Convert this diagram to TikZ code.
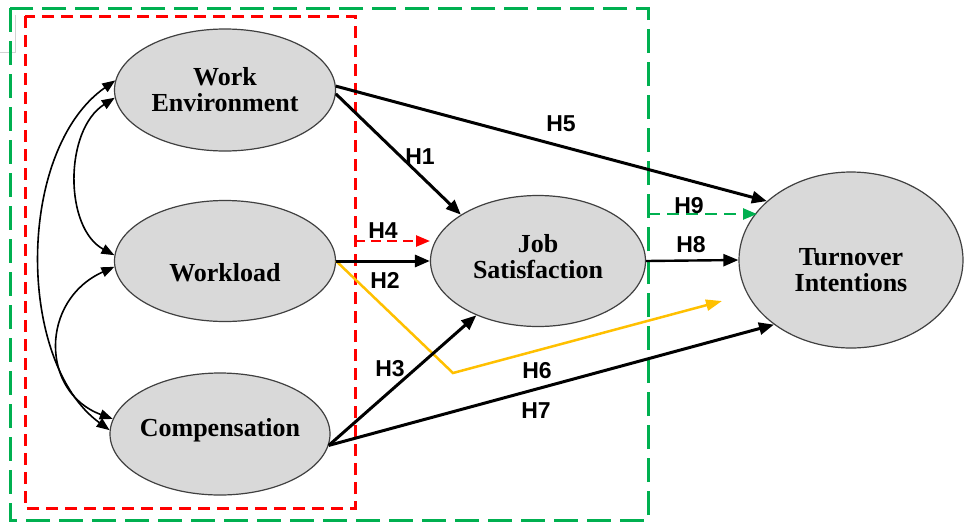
\documentclass[tikz,border=0pt]{standalone}
\usepackage{fontspec}
\setmainfont{Liberation Serif}
\newfontfamily\labfont{Liberation Sans}
\usetikzlibrary{arrows.meta,shapes.geometric}
\definecolor{boxgreen}{HTML}{00B050}
\definecolor{boxred}{HTML}{FF0000}
\definecolor{arryellow}{HTML}{FFC000}
\definecolor{ellfill}{HTML}{D9D9D9}
\definecolor{ellline}{HTML}{404040}
\begin{document}
\begin{tikzpicture}[x=1pt,y=-1pt,
  var/.style={ellipse, draw=ellline, line width=1.2pt, fill=ellfill, inner sep=0pt},
  vtext/.style={font=\fontsize{26}{26}\selectfont\bfseries, align=center, text=black},
  hlab/.style={font=\labfont\fontsize{23}{23}\selectfont\bfseries, inner sep=0pt},
  mainarrow/.style={line width=3pt, -{Triangle[length=15pt,width=12pt]}},
  thinarrow/.style={line width=2.4pt, -{Triangle[length=15pt,width=12pt]}},
  bidir/.style={line width=1.6pt, {Triangle[length=13pt,width=10pt]}-{Triangle[length=13pt,width=10pt]}},
  yelarrow/.style={draw=arryellow, line width=2.5pt, -{Triangle[length=16pt,width=11pt]}},
  reddash/.style={draw=boxred, line width=2.5pt, dash pattern=on 10pt off 6pt, -{Triangle[length=14pt,width=11pt]}},
  greendash/.style={draw=boxgreen, line width=2.5pt, dash pattern=on 12pt off 7pt, -{Triangle[length=14pt,width=11pt]}},
  greenbox/.style={draw=boxgreen, line width=3pt, dash pattern=on 24pt off 9pt},
  redbox/.style={draw=boxred, line width=3pt, dash pattern=on 12pt off 7pt}
]
\useasboundingbox (0,0) rectangle (964,523);
\fill[white] (0,0) rectangle (964,523);
% faint corner mark
\draw[gray!35, line width=0.8pt] (0,52) -- (15,52) -- (15,15);
% boxes
\draw[greenbox] (10,8) rectangle (648,520);
\draw[redbox] (25,16) rectangle (355,508);
% nodes
\node[var, minimum width=221pt, minimum height=122pt,
  label={[vtext]center:{Work\\Environment}}] (we) at (225,90) {};
\node[var, minimum width=221pt, minimum height=121pt,
  label={[vtext, yshift=-12pt]center:Workload}] (wl) at (225,261) {};
\node[var, minimum width=220pt, minimum height=122pt,
  label={[vtext, yshift=4pt]center:Compensation}] (co) at (220,434) {};
\node[var, minimum width=215pt, minimum height=131pt,
  label={[vtext, yshift=4pt]center:{Job\\Satisfaction}}] (js) at (538,261) {};
\node[var, minimum width=224pt, minimum height=176pt,
  label={[vtext, yshift=-10pt]center:{Turnover\\Intentions}}] (ti) at (851,260) {};
% coordinates for free ends
\coordinate (h4s) at (355,241);
\coordinate (h4e) at (430,241);
\coordinate (h9s) at (648,214);
\coordinate (h9e) at (757,214);
\coordinate (h6bend) at (453,373);
\coordinate (h6e) at (722,301);
% correlation curves
\draw[bidir] (we.184) .. controls (64,130) and (64,228) .. (wl.177);
\draw[bidir] (wl.183) .. controls (40,300) and (40,392) .. (co.172);
\draw[bidir] (we.175) .. controls (16,150) and (16,362) .. (co.178);
% yellow path
\draw[yelarrow] (wl.east) -- (h6bend) -- (h6e);
% main arrows
\draw[mainarrow] (we.2) -- (ti.145);
\draw[mainarrow] (we.-2) -- (js.149);
\draw[mainarrow] (wl.east) -- (js.west);
\draw[mainarrow] (co.-6) -- (js);
\draw[mainarrow] (co.-6) -- (ti.220);
\draw[thinarrow] (js.east) -- (ti.west);
\draw[reddash] (h4s) -- (h4e);
\draw[greendash] (h9s) -- (h9e);
% labels
\node[hlab] (l1) at (420,157) {H1};
\node[hlab] (l5) at (561,124) {H5};
\node[hlab] (l4) at (383,231) {H4};
\node[hlab] (l2) at (385,280) {H2};
\node[hlab] (l3) at (390,369) {H3};
\node[hlab] (l6) at (537,371) {H6};
\node[hlab] (l7) at (536,411) {H7};
\node[hlab] (l9) at (689,206) {H9};
\node[hlab] (l8) at (691,245) {H8};
\end{tikzpicture}
\end{document}
